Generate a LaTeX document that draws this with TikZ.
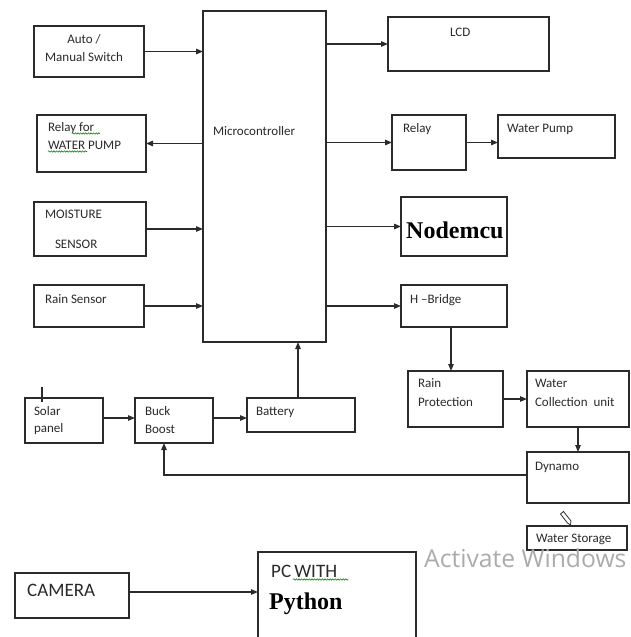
\documentclass[tikz,border=0pt]{standalone}
\usepackage{fontspec}
\setmainfont{Carlito}
\newfontfamily\tnr{Liberation Serif}
\newfontfamily\wmfont{Open Sans}
\usetikzlibrary{arrows.meta,decorations.pathmorphing}
\definecolor{ink}{HTML}{2B2B2B}
\definecolor{txt}{HTML}{2A2A2A}
\tikzset{
  box/.style={draw=ink, line width=1.15pt, inner sep=0pt, outer sep=0pt, fill=white},
  arr/.style={-{Triangle[length=7pt,width=5.5pt]}, line width=1.1pt, draw=ink},
  lbl/.style={anchor=base west, inner sep=0pt, outer sep=0pt, text=txt, font=\fontsize{13}{15}\selectfont},
  lblc/.style={lbl, anchor=base},
  big/.style={anchor=base west, inner sep=0pt, text=txt, font=\fontsize{19}{22}\selectfont},
  bold/.style={anchor=base west, inner sep=0pt, text=black, font=\tnr\bfseries\fontsize{24}{28}\selectfont},
  squig/.style={draw=green!55!black, line width=0.6pt, decorate, decoration={snake, amplitude=0.7pt, segment length=2.6pt}}
}
\begin{document}
\begin{tikzpicture}[x=1pt,y=-1pt]
\useasboundingbox (0,0) rectangle (630,637);
\clip (0,0) rectangle (630,637);
% boxes
\node[box, minimum width=110, minimum height=51] (auto) at (89,51.5) {};
\node[box, minimum width=123, minimum height=331] (mc) at (264.5,176.5) {};
\node[box, minimum width=109, minimum height=57] (relayfor) at (91.5,143.5) {};
\node[box, minimum width=112, minimum height=54] (moist) at (90,229) {};
\node[box, minimum width=110, minimum height=42] (rains) at (89,306) {};
\node[box, minimum width=161, minimum height=54] (lcd) at (468.5,44) {};
\node[box, minimum width=74, minimum height=55] (relay) at (429,142.5) {};
\node[box, minimum width=117, minimum height=43] (wp) at (556.5,136.5) {};
\node[box, minimum width=106, minimum height=59] (nodemcu) at (454,226.5) {};
\node[box, minimum width=106, minimum height=42] (hb) at (454,306) {};
\node[box, minimum width=78, minimum height=45] (solar) at (64,420.5) {};
\node[box, minimum width=78, minimum height=45] (buck) at (174,420.5) {};
\node[box, minimum width=108, minimum height=34] (batt) at (301,415) {};
\node[box, minimum width=95, minimum height=56] (rp) at (455.5,399) {};
\node[box, minimum width=102, minimum height=56] (wcu) at (578,399) {};
\node[box, minimum width=102, minimum height=51] (dyn) at (578,477.5) {};
\node[box, minimum width=100, minimum height=24] (ws) at (577,538) {};
\node[box, minimum width=114, minimum height=45] (cam) at (72,595.5) {};
\node[box, minimum width=158, minimum height=108] (pc) at (337,606) {};
% texts
\node[lblc] (tauto1) at (84,43) {Auto /};
\node[lblc] (tauto2) at (84,61) {Manual Switch};
\node[lbl] (tmc) at (213,135) {Microcontroller};
\node[lbl] (trf1) at (48,131) {Relay for};
\node[lbl] (trf2) at (48,149) {WATER PUMP};
\node[lbl] (tmo1) at (45,218) {MOISTURE};
\node[lbl] (tmo2) at (55,248) {SENSOR};
\node[lbl] (trs) at (45,303) {Rain Sensor};
\node[lbl] (tlcd) at (450,36) {LCD};
\node[lbl] (trel) at (403,132) {Relay};
\node[lbl] (twp) at (507,132) {Water Pump};
\node[bold] (tnode) at (406,238) {Nodemcu};
\node[lbl] (thb) at (410,303) {H --Bridge};
\node[lbl] (tsol1) at (34,415) {Solar};
\node[lbl] (tsol2) at (34,432) {panel};
\node[lbl] (tbk1) at (145,415) {Buck};
\node[lbl] (tbk2) at (145,433) {Boost};
\node[lbl] (tbat) at (256,415) {Battery};
\node[lbl] (trp1) at (418,387) {Rain};
\node[lbl] (trp2) at (418,406) {Protection};
\node[lbl] (twc1) at (535,387) {Water};
\node[lbl] (twc2) at (535,406) {Collection\ \ unit};
\node[lbl] (tdyn) at (535,470) {Dynamo};
\node[lbl] (tws) at (536,542) {Water Storage};
\node[big] (tcam) at (27,596) {CAMERA};
\node[big] (tpc) at (271,577) {PC\,WITH};
\node[bold] (tpy) at (269,609) {Python};
\node[anchor=base west, inner sep=0pt, text=black!33, font=\wmfont\fontsize{24.7}{28}\selectfont] (twm) at (424,567) {Activate Windows};
% spell-check squiggles
\draw[squig] (72,133.5) -- (100,133.5);
\draw[squig] (48,151.5) -- (87,151.5);
\draw[squig] (293,579.5) -- (348,579.5);
% marks
\draw[line width=2pt, draw=ink] (42,387) -- (42,402);
\draw[line width=0.8pt, draw=ink] (560.5,514) -- (563.5,511.5) -- (571,521) -- (570.5,525) -- (567.5,523) -- cycle;
% connectors
\draw[arr] (auto.east) -- (auto.east -| mc.west);
\draw[arr] (relayfor.east -| mc.west) -- (relayfor.east);
\draw[arr] (moist.east) -- (moist.east -| mc.west);
\draw[arr] (rains.east) -- (rains.east -| mc.west);
\draw[arr] (mc.east |- lcd.west) -- (lcd.west);
\draw[arr] (mc.east |- relay.west) -- (relay.west);
\draw[arr] (relay.east) -- (relay.east -| wp.west);
\draw[arr] (mc.east |- nodemcu.west) -- (nodemcu.west);
\draw[arr] (mc.east |- hb.west) -- (hb.west);
\draw[arr] ([xshift=-3pt]hb.south) -- ([xshift=-3pt]hb.south |- rp.north);
\draw[arr] (rp.east) -- (rp.east -| wcu.west);
\draw[arr] (wcu.south) -- (wcu.south |- dyn.north);
\draw[arr] ([yshift=2.5pt]dyn.west) -| ([xshift=-10pt]buck.south);
\draw[arr] ([yshift=2.5pt]solar.east) -- ([yshift=2.5pt]buck.west);
\draw[arr] ([yshift=2.5pt]buck.east) -- ([yshift=2.5pt]buck.east -| batt.west);
\draw[arr] ([xshift=-3pt]batt.north) -- ([xshift=-3pt]batt.north |- mc.south);
\draw[arr] ([yshift=3.5pt]cam.east) -- ([yshift=3.5pt]cam.east -| pc.west);
\end{tikzpicture}
\end{document}
